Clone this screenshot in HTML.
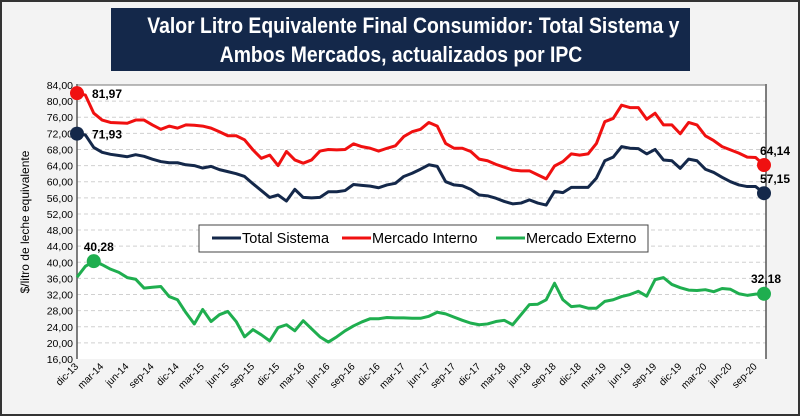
<!DOCTYPE html>
<html><head><meta charset="utf-8"><style>
body{margin:0;width:800px;height:416px;overflow:hidden;background:#f3f3f3;font-family:"Liberation Sans",sans-serif}
#frame{position:absolute;left:0;top:0;width:796px;height:412px;border:2px solid #333;background:#f3f3f3}
#title{position:absolute;left:111px;top:8px;width:579px;height:63px;background:#14284a;color:#fff;font-weight:bold;font-size:22px;line-height:29px;text-align:center;padding-top:3px;box-sizing:border-box;white-space:nowrap}
#title span{display:inline-block;transform:scaleX(0.88);transform-origin:center}
svg{position:absolute;left:0;top:0}
</style></head><body>
<div id="frame"></div>
<div id="title"><span>Valor Litro Equivalente Final Consumidor: Total Sistema y</span><br><span>Ambos Mercados, actualizados por IPC</span></div>
<svg id="chart" width="800" height="416"></svg>
<script>
const months=["ene","feb","mar","abr","may","jun","jul","ago","sep","oct","nov","dic"];
const startYear=13;
const totalSistema=[71.93,71.6,68.5,67.3,66.8,66.5,66.2,66.7,66.3,65.6,65,64.7,64.7,64.2,64,63.4,63.8,63,62.5,62,61.3,59.5,57.8,56.1,56.7,55.2,58.1,56.1,56,56.1,57.5,57.5,57.8,59.3,59.1,58.9,58.5,59.2,59.6,61.3,62.1,63.1,64.2,63.8,60,59.2,59,58.1,56.7,56.5,55.9,55.1,54.5,54.7,55.5,54.7,54.2,57.6,57.3,58.6,58.6,58.6,60.9,65.2,66.1,68.7,68.3,68.2,66.9,68,65.4,65.2,63.3,65.6,65.2,63.1,62.3,61.1,60,59.2,58.8,58.8,57.15];
const mercadoInterno=[81.97,81.5,77,75.3,74.7,74.6,74.5,75.3,75.3,74.1,73,73.8,73.3,74.1,74,73.8,73.3,72.4,71.4,71.4,70.4,67.9,65.8,66.6,64,67.5,65.4,64.6,65.4,67.6,68,67.9,68,69.4,68.7,68.3,67.6,68.3,68.9,71.2,72.4,73,74.7,73.8,69.5,68.3,68.3,67.5,65.6,65.2,64.3,63.6,62.9,62.7,62.7,61.7,60.7,63.9,65,66.9,66.6,66.9,69.5,74.9,75.7,79,78.4,78.4,75.5,77,74.1,74.1,71.9,74.7,74.1,71.4,70.2,68.7,67.9,67.1,66.1,66,64.14];
const mercadoExterno=[36.3,39,40.28,39.4,38.3,37.5,36.2,35.8,33.6,33.8,34,31.5,30.7,27.5,24.7,28.3,25.3,27,27.8,25.3,21.5,23.3,22,20.5,23.8,24.5,23,25.5,23.5,21.5,20.2,21.5,23,24.2,25.2,26,26,26.3,26.2,26.2,26.1,26.1,26.6,27.6,27.2,26.4,25.6,24.9,24.5,24.7,25.3,25.6,24.5,27,29.5,29.6,30.7,34.8,30.7,29,29.2,28.6,28.6,30.3,30.7,31.5,32,32.8,31.6,35.7,36.2,34.5,33.7,33.1,33,33.2,32.7,33.5,33.3,32.2,31.8,32.1,32.18];
const yTicks=[16,20,24,28,32,36,40,44,48,52,56,60,64,68,72,76,80,84];
const NS="http://www.w3.org/2000/svg";
const svg=document.getElementById('chart');
const X0=77,X1=764,Y0=359,Y1=85,YMIN=16,YMAX=84;
const N=totalSistema.length;
function xs(i){return X0+i*(X1-X0)/(N-1);}
function ys(v){return Y0-(v-YMIN)*(Y0-Y1)/(YMAX-YMIN);}
function mk(tag,attrs){const e=document.createElementNS(NS,tag);for(const k in attrs)e.setAttribute(k,attrs[k]);svg.appendChild(e);return e;}
function label(i){const m=(11+i)%12;const y=startYear+Math.floor((11+i)/12);return months[m]+"-"+y;}
let e=mk('rect',{x:X0,y:Y1,width:X1-X0+2,height:Y0-Y1,fill:'#fff'});


yTicks.forEach(t=>{
  if(t>YMIN){let g=mk('line',{x1:X0,x2:X1+2,y1:ys(t),y2:ys(t),stroke:'#d0d0d0','stroke-dasharray':'4,3','stroke-width':1});
  
  }
  let tx=mk('text',{x:X0-4,y:ys(t)+4,'text-anchor':'end','font-size':'10.5',fill:'#000'});
  tx.textContent=t.toFixed(2).replace('.',',');
  
  
});
e=mk('line',{x1:X0,x2:X0,y1:Y1-1,y2:Y0,stroke:'#555','stroke-width':1.5});


e=mk('line',{x1:X1+2,x2:X1+2,y1:Y1-1,y2:Y0,stroke:'#555','stroke-width':1.5});


e=mk('line',{x1:X0,x2:X1+2,y1:Y1,y2:Y1,stroke:'#777','stroke-width':1});


for(let i=0;i<N;i+=3){
  let tx=mk('text',{x:xs(i)+2,y:Y0+8,'text-anchor':'end','font-size':'10',fill:'#000',transform:`rotate(-45 ${xs(i)+2} ${Y0+8})`});
  tx.textContent=label(i);
  
  
}
e=mk('text',{x:0,y:0,'font-size':'12','text-anchor':'middle',transform:'translate(29,222) rotate(-90)'});
e.textContent='$/litro de leche equivalente';


function series(arr,color,name){
  const p=mk('polyline',{points:arr.map((v,i)=>xs(i)+','+ys(v)).join(' '),fill:'none',stroke:color,'stroke-width':3,'stroke-linejoin':'round'});
  
  
}
series(mercadoExterno,'#1fae4f','line-mercado-externo');
series(totalSistema,'#14284a','line-total-sistema');
series(mercadoInterno,'#f01010','line-mercado-interno');
function marker(arr,i,color,name,dx,dy,anchor){
  const c=mk('circle',{cx:xs(i),cy:ys(arr[i]),r:7,fill:color});
  
  
  const t=mk('text',{x:xs(i)+dx,y:ys(arr[i])+dy,'font-size':'12','font-weight':'bold','text-anchor':anchor});
  t.textContent=arr[i].toFixed(2).replace('.',',');
  
  
}
marker(mercadoInterno,0,'#f01010','start-interno',15,5,'start');
marker(totalSistema,0,'#14284a','start-total',15,5,'start');
marker(mercadoExterno,2,'#1fae4f','peak-externo',-10,-10,'start');
marker(mercadoInterno,N-1,'#f01010','end-interno',-4,-10,'start');
marker(totalSistema,N-1,'#14284a','end-total',-4,-10,'start');
marker(mercadoExterno,N-1,'#1fae4f','end-externo',2,-11,'middle');
const lg=mk('rect',{x:199,y:225,width:449,height:27,fill:'#fff',stroke:'#444','stroke-width':1});


const leg=[["Total Sistema",'#14284a',212],["Mercado Interno",'#f01010',342],["Mercado Externo",'#1fae4f',496]];
leg.forEach(([n,c,x])=>{
  const l=mk('line',{x1:x,x2:x+29,y1:238,y2:238,stroke:c,'stroke-width':3});
  
  
  const t=mk('text',{x:x+30,y:243,'font-size':'14.5',fill:'#000'});
  t.textContent=n;
  
  
});
</script>
</body></html>
